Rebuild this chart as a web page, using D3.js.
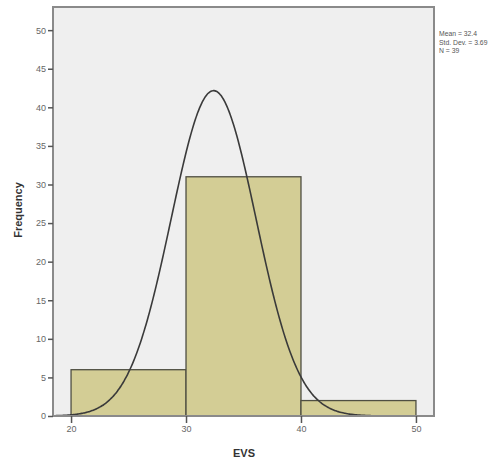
<!DOCTYPE html>
<html>
<head>
<meta charset="utf-8">
<script src="https://cdn.jsdelivr.net/npm/d3@7"></script>
<style>
html,body{margin:0;padding:0;background:#fff;}
svg{display:block;font-family:"Liberation Sans",Arial,sans-serif;}
</style>
</head>
<body>
<div id="chart"></div>
<script>
// Data
const binStarts = [20, 30, 40];
const binEnds = [30, 40, 50];
const frequencies = [6, 31, 2];
const xTicks = [20, 30, 40, 50];
const yTicks = [0, 5, 10, 15, 20, 25, 30, 35, 40, 45, 50];
const meanValue = 32.4;
const stdDev = 3.69;
const nCount = 39;
const legendLines = ["Mean = 32.4", "Std. Dev. = 3.69", "N = 39"];

const W = 491, H = 463;
const plot = {left: 53, top: 7, right: 434, bottom: 416};

const svg = d3.select("#chart").append("svg").attr("width", W).attr("height", H);

const x = d3.scaleLinear().domain([18.43, 51.57]).range([plot.left, plot.right]);
const y = d3.scaleLinear().domain([0, 53]).range([plot.bottom, plot.top]);

// plot background
svg.append("rect")
  .attr("x", plot.left).attr("y", plot.top)
  .attr("width", plot.right - plot.left).attr("height", plot.bottom - plot.top)
  .attr("fill", "#efefef");

// bars
const bins = binStarts.map((s, i) => ({s, e: binEnds[i], f: frequencies[i]}));
svg.append("g").selectAll("rect").data(bins).join("rect")
  .attr("x", d => x(d.s)).attr("y", d => y(d.f))
  .attr("width", d => x(d.e) - x(d.s)).attr("height", d => y(0) - y(d.f))
  .attr("fill", "#d3cd95").attr("stroke", "#4f4f42").attr("stroke-width", 1.3);

// normal curve (fitted density scaled by N * bin width)
const bw = binEnds[0] - binStarts[0];
const dens = v => nCount * bw * Math.exp(-0.5 * Math.pow((v - meanValue) / stdDev, 2)) / (stdDev * Math.sqrt(2 * Math.PI));
const xs = d3.range(x.domain()[0], x.domain()[1] + 0.001, 0.1);
svg.append("path")
  .datum(xs)
  .attr("d", d3.line().x(v => x(v)).y(v => y(dens(v))).curve(d3.curveBasis))
  .attr("fill", "none").attr("stroke", "#3a3a3a").attr("stroke-width", 1.6);

// frame
svg.append("rect")
  .attr("x", plot.left).attr("y", plot.top)
  .attr("width", plot.right - plot.left).attr("height", plot.bottom - plot.top)
  .attr("fill", "none").attr("stroke", "#8a8a8a").attr("stroke-width", 2);

// axes
const yAxis = svg.append("g").attr("transform", `translate(${plot.left},0)`)
  .call(d3.axisLeft(y).tickValues(yTicks).tickSize(5).tickSizeOuter(0).tickPadding(2));
yAxis.select(".domain").remove();
yAxis.selectAll("line").attr("stroke", "#555").attr("stroke-width", 1.5);
yAxis.selectAll("text").attr("fill", "#666").style("font-size", "9px");

const xAxis = svg.append("g").attr("transform", `translate(0,${plot.bottom})`)
  .call(d3.axisBottom(x).tickValues(xTicks).tickSize(7).tickSizeOuter(0).tickPadding(3));
xAxis.select(".domain").remove();
xAxis.selectAll("line").attr("stroke", "#555").attr("stroke-width", 1.5);
xAxis.selectAll("text").attr("fill", "#666").style("font-size", "9px");

// axis titles
svg.append("text").attr("transform", "translate(22,210) rotate(-90)")
  .attr("text-anchor", "middle").style("font-size", "11px").style("font-weight", "bold")
  .attr("fill", "#333").text("Frequency");
svg.append("text").attr("x", 244).attr("y", 457)
  .attr("text-anchor", "middle").style("font-size", "11px").style("font-weight", "bold")
  .attr("fill", "#333").text("EVS");

// legend
svg.append("g").selectAll("text").data(legendLines).join("text")
  .attr("x", 439).attr("y", (d, i) => 36 + i * 8.5)
  .style("font-size", "6.8px").attr("fill", "#555").text(d => d);
</script>
</body>
</html>
